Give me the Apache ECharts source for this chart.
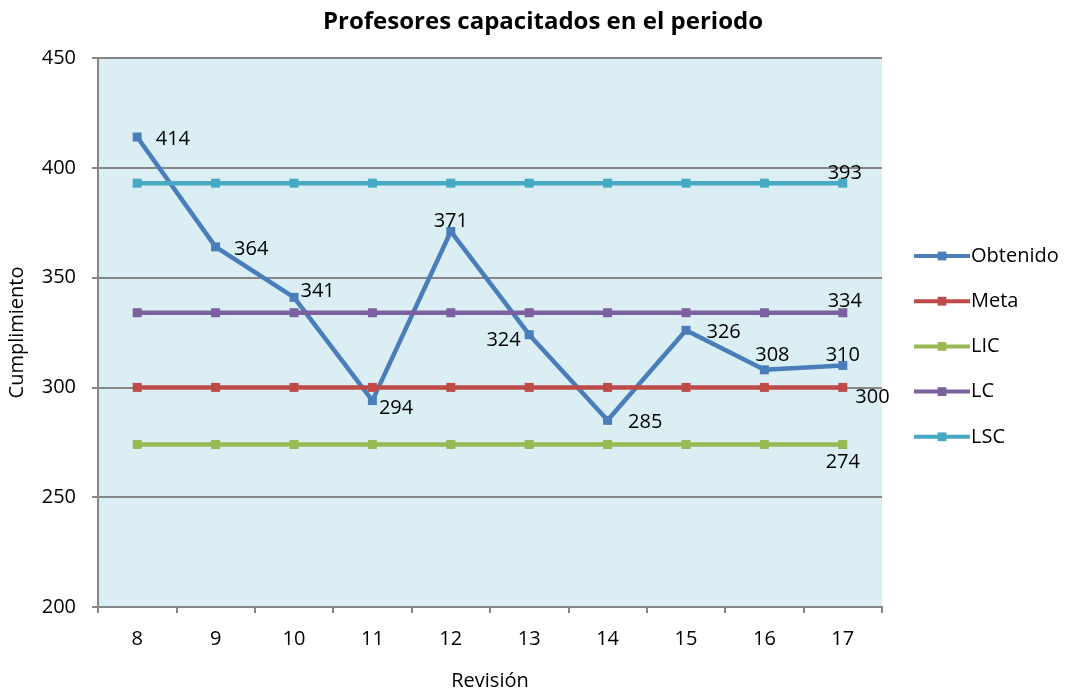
<!DOCTYPE html>
<html>
<head>
<meta charset="utf-8">
<script src="https://cdn.jsdelivr.net/npm/echarts@6/dist/echarts.min.js"></script>
<style>
  html, body { margin: 0; padding: 0; background: #fff; }
  #chart { width: 1068px; height: 693px; }
</style>
</head>
<body>
<div id="chart"></div>
<script>
// datos
var revisiones = ['8', '9', '10', '11', '12', '13', '14', '15', '16', '17']
var obtenido = [414, 364, 341, 294, 371, 324, 285, 326, 308, 310]
var meta = [300, 300, 300, 300, 300, 300, 300, 300, 300, 300]
var lic = [274, 274, 274, 274, 274, 274, 274, 274, 274, 274]
var lc = [334, 334, 334, 334, 334, 334, 334, 334, 334, 334]
var lsc = [393, 393, 393, 393, 393, 393, 393, 393, 393, 393]

// posición de las etiquetas de Obtenido (solo estilo)
var posObtenido = [
  { position: 'right', distance: 14, offset: [0, 2] },
  { position: 'right', distance: 14, offset: [0, 2] },
  { position: 'right', distance: 2, offset: [0, -6] },
  { position: 'right', distance: 2, offset: [0, 8] },
  { position: 'top', distance: 0, offset: [0, 4] },
  { position: 'left', distance: 4, offset: [0, 6] },
  { position: 'right', distance: 16, offset: [0, 2] },
  { position: 'right', distance: 16, offset: [0, 2] },
  { position: 'top', distance: 2, offset: [8, 2] },
  { position: 'top', distance: 2, offset: [0, 6] }
]

var fuente = 'Open Sans'
var chart = echarts.init(document.getElementById('chart'))

function ultimaEtiqueta(arr, pos) {
  return arr.map(function (v, i) {
    return { value: v, label: Object.assign({ show: i === arr.length - 1 }, pos) }
  })
}

function serie(nombre, color, data) {
  return {
    name: nombre,
    type: 'line',
    data: data,
    symbol: 'rect',
    symbolSize: 9,
    lineStyle: { color: color, width: 4.5 },
    itemStyle: { color: color },
    label: { color: '#000', fontSize: 20, fontFamily: fuente },
    animation: false
  }
}

var option = {
  backgroundColor: '#fff',
  title: {
    text: 'Profesores capacitados en el periodo',
    left: 538,
    textAlign: 'center',
    top: 5,
    textStyle: { fontSize: 24, fontWeight: 'bold', fontFamily: fuente, color: '#000' }
  },
  legend: {
    orient: 'vertical',
    left: 912,
    top: 246,
    padding: 0,
    itemGap: 25.2,
    itemWidth: 56,
    itemHeight: 11,
    lineStyle: { width: 4 },
    textStyle: { fontSize: 20, fontFamily: fuente, color: '#000', padding: [0, 0, 0, -4] },
    data: ['Obtenido', 'Meta', 'LIC', 'LC', 'LSC']
  },
  grid: {
    left: 98, right: 186, top: 58, bottom: 86,
    outerBoundsMode: 'none',
    containLabel: false,
    show: true, backgroundColor: '#DAEEF3', borderWidth: 0
  },
  xAxis: {
    type: 'category',
    data: revisiones,
    boundaryGap: true,
    name: 'Revisión',
    nameLocation: 'middle',
    nameGap: 64,
    nameTextStyle: { fontSize: 20, fontFamily: fuente, color: '#000' },
    axisLine: { lineStyle: { color: '#868686', width: 2 } },
    axisTick: { show: true, length: 6, alignWithLabel: false, lineStyle: { color: '#868686', width: 2 } },
    axisLabel: { fontSize: 20, fontFamily: fuente, color: '#000', margin: 22 }
  },
  yAxis: {
    type: 'value',
    min: 200,
    max: 450,
    interval: 50,
    name: 'Cumplimiento',
    nameLocation: 'middle',
    nameGap: 71,
    nameTextStyle: { fontSize: 20, fontFamily: fuente, color: '#000' },
    axisLine: { show: true, lineStyle: { color: '#868686', width: 2 } },
    axisTick: { show: true, length: 6, lineStyle: { color: '#868686', width: 2 } },
    axisLabel: { fontSize: 20, fontFamily: fuente, color: '#000', margin: 22 },
    splitLine: { show: true, lineStyle: { color: '#868686', width: 2 } }
  },
  series: [
    serie('Obtenido', '#4A7EBB', obtenido.map(function (v, i) {
      return { value: v, label: Object.assign({ show: true }, posObtenido[i]) }
    })),
    serie('Meta', '#BE4B48', ultimaEtiqueta(meta, { position: 'right', distance: 8, offset: [0, 10] })),
    serie('LIC', '#98B954', ultimaEtiqueta(lic, { position: 'bottom', distance: 3 })),
    serie('LC', '#7D60A0', ultimaEtiqueta(lc, { position: 'top', distance: 2, offset: [2, 5] })),
    serie('LSC', '#46AAC5', ultimaEtiqueta(lsc, { position: 'top', distance: 0, offset: [2, 5] }))
  ]
}

chart.setOption(option)
</script>
</body>
</html>
